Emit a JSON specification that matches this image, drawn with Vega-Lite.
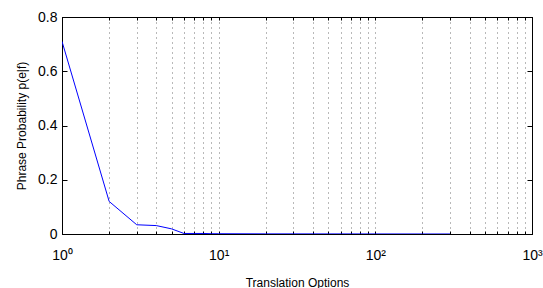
{
  "$schema": "https://vega.github.io/schema/vega-lite/v6.json",
  "autosize": "none",
  "width": 470,
  "height": 217,
  "padding": {"left": 62, "top": 17, "right": 11, "bottom": 54},
  "config": {
    "font": "Liberation Sans",
    "view": {"stroke": "black", "strokeWidth": 1}
  },
  "data": {
    "values": [
      {"options": 1, "p": 0.71},
      {"options": 2, "p": 0.12},
      {"options": 3, "p": 0.034},
      {"options": 4, "p": 0.031},
      {"options": 5, "p": 0.019},
      {"options": 6, "p": 0.002},
      {"options": 7, "p": 0.002},
      {"options": 8, "p": 0.002},
      {"options": 9, "p": 0.001},
      {"options": 10, "p": 0.001},
      {"options": 20, "p": 0.0005},
      {"options": 50, "p": 0.0003},
      {"options": 100, "p": 0.0002},
      {"options": 200, "p": 0.0001},
      {"options": 300, "p": 0.0001}
    ]
  },
  "resolve": {"axis": {"x": "independent", "y": "independent"}},
  "layer": [
    {
      "mark": {"type": "line", "color": "#0000ff", "strokeWidth": 1, "clip": true},
      "encoding": {
        "x": {
          "field": "options",
          "type": "quantitative",
          "title": "Translation Options",
          "scale": {"type": "log", "domain": [1, 1000], "nice": false},
          "axis": {
            "values": [1,2,3,4,5,6,7,8,9,10,20,30,40,50,60,70,80,90,100,200,300,400,500,600,700,800,900,1000],
            "labelExpr": "datum.value == 1 ? '10⁰' : datum.value == 10 ? '10¹' : datum.value == 100 ? '10²' : datum.value == 1000 ? '10³' : ''",
            "grid": true,
            "gridColor": "#000000",
            "gridDash": [1, 4],
            "gridWidth": 1,
            "gridOpacity": 0.55,
            "domainColor": "black",
            "tickColor": "black",
            "tickSize": -3,
            "labelPadding": 17,
            "labelFontSize": 14,
            "labelColor": "black",
            "labelFlush": false,
            "labelOverlap": false,
            "titleFontSize": 12,
            "titleFontWeight": "normal",
            "titleColor": "black",
            "titlePadding": 15
          }
        },
        "y": {
          "field": "p",
          "type": "quantitative",
          "title": "Phrase Probability p(e|f)",
          "scale": {"domain": [0, 0.8], "nice": false},
          "axis": {
            "values": [0, 0.2, 0.4, 0.6, 0.8],
            "labelExpr": "datum.value == 0 ? '0' : format(datum.value, '.1f')",
            "grid": false,
            "domainColor": "black",
            "tickColor": "black",
            "tickSize": -5,
            "labelPadding": 10,
            "labelFontSize": 14,
            "labelColor": "black",
            "labelFlush": false,
            "titleFontSize": 12,
            "titleFontWeight": "normal",
            "titleColor": "black",
            "titlePadding": 9
          }
        }
      }
    },
    {
      "mark": {"type": "line", "opacity": 0, "clip": true},
      "encoding": {
        "x": {
          "field": "options",
          "type": "quantitative",
          "scale": {"type": "log", "domain": [1, 1000], "nice": false},
          "axis": {
            "orient": "top",
            "title": null,
            "values": [1,2,3,4,5,6,7,8,9,10,20,30,40,50,60,70,80,90,100,200,300,400,500,600,700,800,900,1000],
            "labels": false,
            "grid": false,
            "domainColor": "black",
            "tickColor": "black",
            "tickSize": -3
          }
        },
        "y": {
          "field": "p",
          "type": "quantitative",
          "scale": {"domain": [0, 0.8], "nice": false},
          "axis": {
            "orient": "right",
            "title": null,
            "values": [0, 0.2, 0.4, 0.6, 0.8],
            "labels": false,
            "grid": false,
            "domainColor": "black",
            "tickColor": "black",
            "tickSize": -5
          }
        }
      }
    }
  ]
}
